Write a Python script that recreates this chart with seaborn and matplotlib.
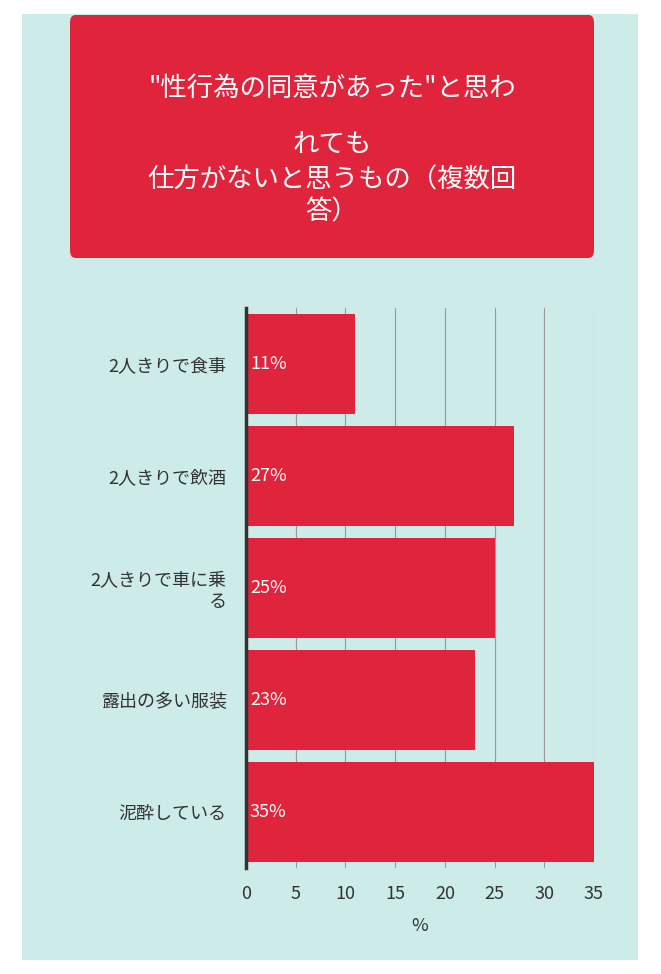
import matplotlib
matplotlib.use("Agg")
import matplotlib.pyplot as plt
import matplotlib.transforms as mtransforms
from matplotlib.patches import FancyBboxPatch, Rectangle
import seaborn as sns
import pandas as pd

categories = ["2人きりで食事", "2人きりで飲酒", "2人きりで車に乗\nる", "露出の多い服装", "泥酔している"]
values = [11, 27, 25, 23, 35]
ticks = [0, 5, 10, 15, 20, 25, 30, 35]
title_lines = ['"性行為の同意があった"と思わ', "れても", "仕方がないと思うもの（複数回", "答）"]

plt.rcParams["font.family"] = "Noto Sans CJK JP"
W, H = 661, 974
fig = plt.figure(figsize=(W/100, H/100), dpi=100)
fig.patch.set_facecolor("white")
bg = Rectangle((22/W, 14/H), (638-22)/W, (960-14)/H, transform=fig.transFigure,
               facecolor="#cdebe8", edgecolor="none", zorder=-10)
fig.patches.append(bg)
box = FancyBboxPatch((70/W, 1-258/H), (594-70)/W, (258-15)/H, transform=fig.transFigure,
                     boxstyle="round,pad=0,rounding_size=0.008", facecolor="#e0243c",
                     edgecolor="none", zorder=-5)
fig.patches.append(box)
for txt, y in zip(title_lines, [88, 145, 180, 212]):
    fig.text(332/W, 1-y/H, txt, ha="center", va="center", color="white", fontsize=19)

ax = fig.add_axes([246/W, 1-868/H, (594-246)/W, (868-308)/H])
ax.set_facecolor("none")
df = pd.DataFrame({"cat": categories, "val": values})
sns.barplot(data=df, x="val", y="cat", color="#e0243c", saturation=1, width=0.9, ax=ax, orient="h")
ax.set_xlim(0, 35)
ax.set_xticks(ticks)
ax.set_xticklabels([str(t) for t in ticks], fontsize=13, color="#333333")
off = mtransforms.ScaledTranslation(-0.15, 0, fig.dpi_scale_trans)
for lab in ax.get_xticklabels():
    lab.set_transform(lab.get_transform() + off)
ax.tick_params(axis="x", length=0, pad=12)
ax.tick_params(axis="y", length=0, pad=14, labelsize=13, labelcolor="#333333")
ax.grid(axis="x", color="#999999", linewidth=0.8)
ax.set_axisbelow(True)
for s in ["top", "right", "bottom"]:
    ax.spines[s].set_visible(False)
ax.spines["left"].set_color("#333333")
ax.spines["left"].set_linewidth(2.5)
ax.set_ylabel("")
ax.set_xlabel("%", fontsize=13, color="#333333", labelpad=10)
for i, v in enumerate(values):
    ax.text(0.4, i, f"{v}%", va="center", ha="left", color="white", fontsize=13)
fig.savefig("out.png", dpi=100)
